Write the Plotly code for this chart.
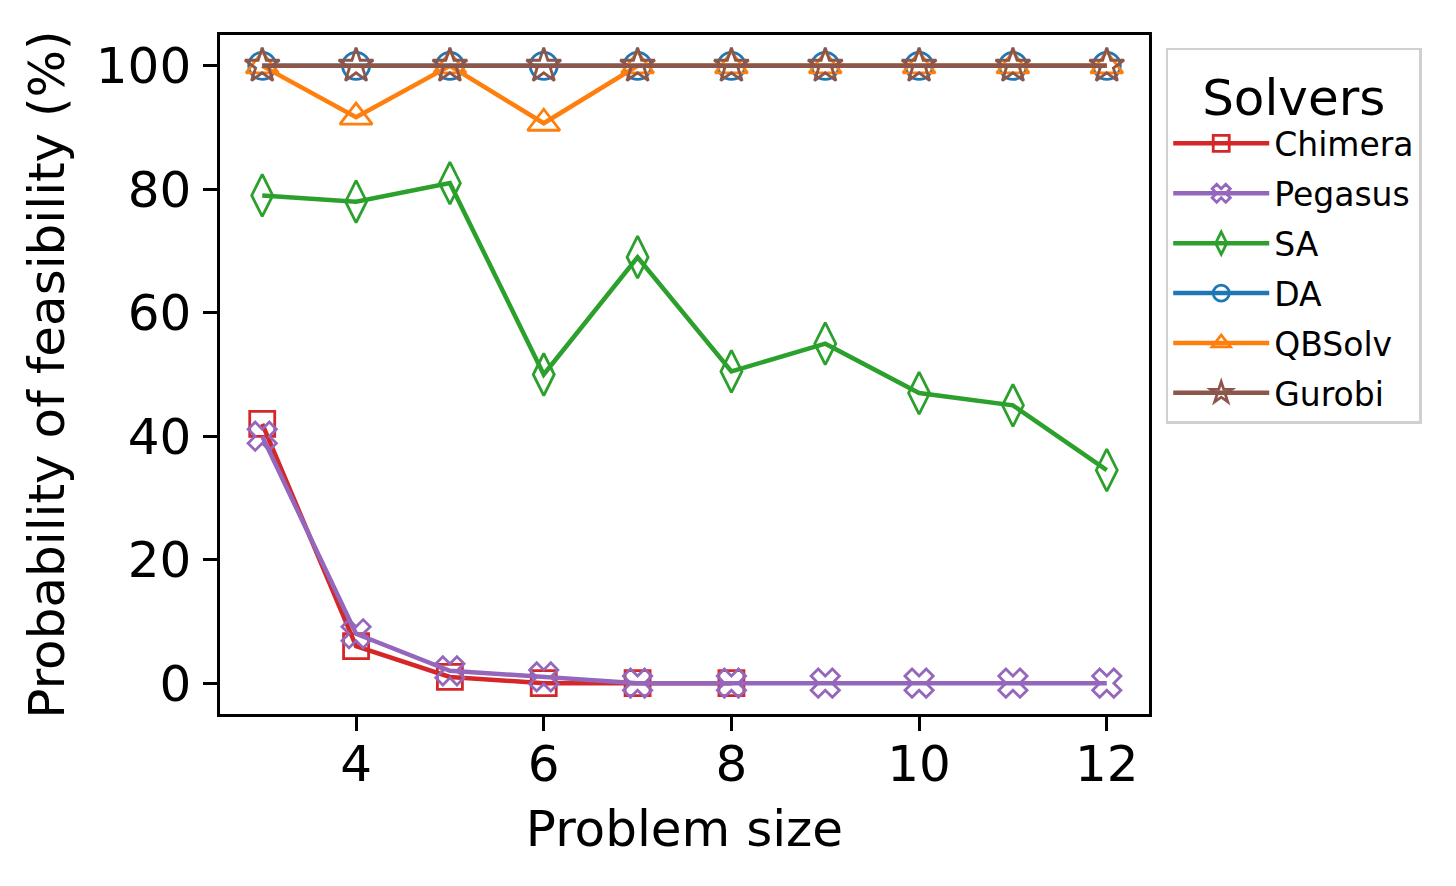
import plotly.graph_objects as go

problem_size = [3, 4, 5, 6, 7, 8, 9, 10, 11, 12]
chimera_x = [3, 4, 5, 6, 7, 8]
chimera = [42, 6, 1, 0, 0, 0]
pegasus = [40, 8, 2, 1, 0, 0, 0, 0, 0, 0]
sa = [79, 78, 81, 50, 69, 50.5, 55, 47, 45, 34.5]
da = [100, 100, 100, 100, 100, 100, 100, 100, 100, 100]
qbsolv = [100, 91.7, 100, 90.7, 100, 100, 100, 100, 100, 100]
gurobi = [100, 100, 100, 100, 100, 100, 100, 100, 100, 100]

series = [
    ("Chimera", chimera_x, chimera, "#d62728", "square-open", 25),
    ("Pegasus", problem_size, pegasus, "#9467bd", "x-open", 25),
    ("SA", problem_size, sa, "#2ca02c", "diamond-tall-open", 30),
    ("DA", problem_size, da, "#1f77b4", "circle-open", 27),
    ("QBSolv", problem_size, qbsolv, "#ff7f0e", "triangle-up-open", 28),
    ("Gurobi", problem_size, gurobi, "#8c564b", "star-open", 26),
]

fig = go.Figure()
for name, xs, ys, color, sym, size in series:
    fig.add_trace(go.Scatter(
        x=xs, y=ys, name=name, mode="lines+markers", legendgroup=name,
        line=dict(color=color, width=4.5),
        marker=dict(symbol=sym, size=size, color=color, line=dict(color=color, width=2.8)),
    ))

font = "DejaVu Sans"
fig.update_layout(
    width=1448, height=878,
    margin=dict(l=212, r=307, t=27, b=172),
    paper_bgcolor="white", plot_bgcolor="white",
    font=dict(family=font, color="black", size=50),
    showlegend=True,
    legend=dict(
        x=1.018, xanchor="left", y=0.981, yanchor="top",
        bgcolor="white", bordercolor="#d0d0d0", borderwidth=2.5,
        font=dict(family=font, size=33, color="black"),
        title=dict(text="Solvers", font=dict(family=font, size=50, color="black"), side="top center"),
        itemwidth=96,
        tracegroupgap=4,
    ),
    xaxis=dict(
        range=[2.55, 12.45], tickvals=[4, 6, 8, 10, 12],
        showline=True, linecolor="black", linewidth=2.5, mirror=True,
        ticks="outside", ticklen=14, tickwidth=2.5, tickcolor="black",
        showgrid=False, zeroline=False, automargin=False,
        ticklabelstandoff=-10,
        tickfont=dict(family=font, size=50),
        title=dict(text="Problem size", font=dict(family=font, size=50), standoff=20),
    ),
    yaxis=dict(
        range=[-5, 105], tickvals=[0, 20, 40, 60, 80, 100],
        showline=True, linecolor="black", linewidth=2.5, mirror=True,
        ticks="outside", ticklen=14, tickwidth=2.5, tickcolor="black",
        showgrid=False, zeroline=False, automargin=False,
        ticklabelstandoff=2,
        tickfont=dict(family=font, size=50),
        title=dict(text="Probability of feasibility (%)", font=dict(family=font, size=50), standoff=16),
    ),
)

fig.write_html("out.html")
